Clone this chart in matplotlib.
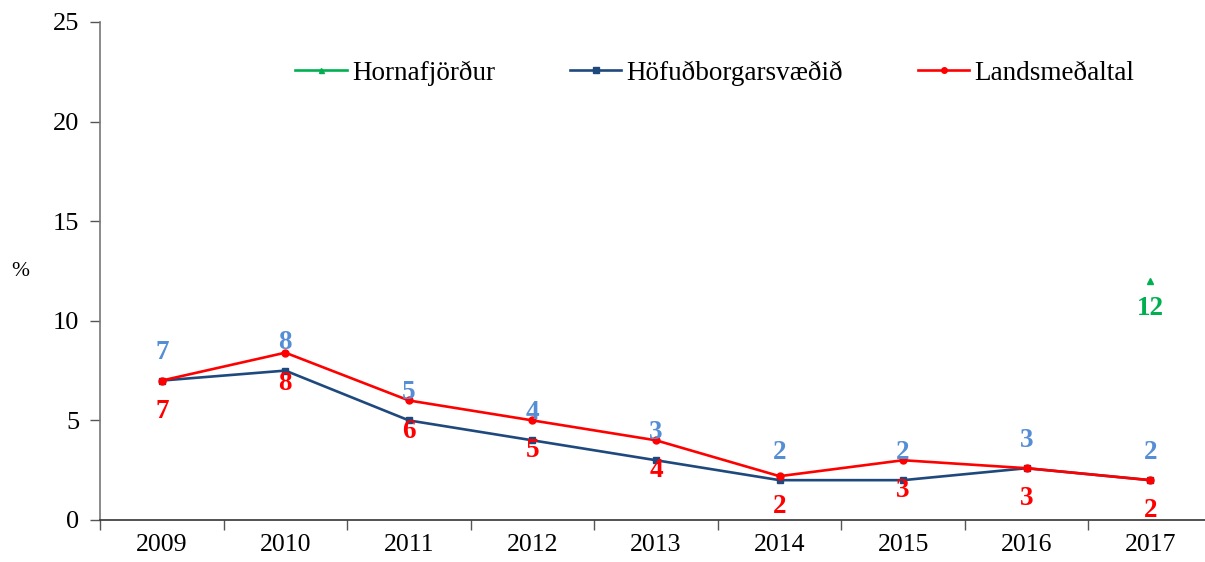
import numpy as np
import matplotlib
matplotlib.use("Agg")
import matplotlib.pyplot as plt

years = ["2009", "2010", "2011", "2012", "2013", "2014", "2015", "2016", "2017"]
hornafjordur = [np.nan, np.nan, np.nan, np.nan, np.nan, np.nan, np.nan, np.nan, 12]
hofudborg = [7, 7.5, 5, 4, 3, 2, 2, 2.6, 2]
landsmedaltal = [7, 8.4, 6, 5, 4, 2.2, 3, 2.6, 2]
horn_labels = ["", "", "", "", "", "", "", "", "12"]
hofud_labels = ["7", "8", "5", "4", "3", "2", "2", "3", "2"]
lands_labels = ["7", "8", "6", "5", "4", "2", "3", "3", "2"]
yticks = [0, 5, 10, 15, 20, 25]

plt.rcParams['font.family'] = ['Liberation Serif', 'DejaVu Serif']

fig = plt.figure(figsize=(12.05, 5.62), dpi=100)
ax = fig.add_axes([100/1205, 1-520/562, 1112/1205, (520-22)/562])

x = np.arange(len(years))
c_green = "#00B050"
c_navy = "#1F497D"
c_red = "#FF0000"
c_lblue = "#558ED5"

ax.plot(x, hornafjordur, color=c_green, marker="^", markersize=4.5, lw=1.9, label="Hornafjörður")
ax.plot(x, hofudborg, color=c_navy, marker="s", markersize=5, lw=1.9, label="Höfuðborgarsvæðið")
ax.plot(x, landsmedaltal, color=c_red, marker="o", markersize=5, lw=1.9, label="Landsmeðaltal")

lbl_fs = 19.5
for i in range(len(years)):
    if hofud_labels[i]:
        ax.annotate(hofud_labels[i], (x[i], hofudborg[i]), xytext=(0, 20), textcoords="offset points",
                    ha="center", va="center", fontsize=lbl_fs, fontweight="bold", color=c_lblue)
    if lands_labels[i]:
        ax.annotate(lands_labels[i], (x[i], landsmedaltal[i]), xytext=(0, -22), textcoords="offset points",
                    ha="center", va="center", fontsize=lbl_fs, fontweight="bold", color=c_red)
    if horn_labels[i]:
        ax.annotate(horn_labels[i], (x[i], hornafjordur[i]), xytext=(0, -20), textcoords="offset points",
                    ha="center", va="center", fontsize=lbl_fs, fontweight="bold", color=c_green)

ax.set_xlim(-0.5, len(years) - 0.5)
ax.set_ylim(0, 25)
ax.set_yticks(yticks)
ax.set_yticklabels([str(v) for v in yticks], fontsize=19)
ax.set_xticks(x)
ax.set_xticklabels(years, fontsize=18.5)
ax.set_xticks(np.arange(-0.5, len(years), 1.0), minor=True)
ax.tick_params(axis="x", which="major", length=0, pad=10)
ax.tick_params(axis="x", which="minor", length=7, direction="out", color="#555555", width=1)
ax.tick_params(axis="y", length=7, direction="out", color="#555555", width=1, pad=8)

for s in ["top", "right"]:
    ax.spines[s].set_visible(False)
ax.spines["left"].set_color("#777777")
ax.spines["bottom"].set_color("#333333")
ax.spines["left"].set_linewidth(1.2)
ax.spines["bottom"].set_linewidth(1.2)

fig.text(20/1205, 1-272/562, "%", fontsize=15.5, ha="center", va="center")

ax.legend(loc="center", bbox_to_anchor=(715/1205, 1-73/562), bbox_transform=fig.transFigure,
          ncol=3, frameon=False, fontsize=19.5, handlelength=1.9, handletextpad=0.2,
          columnspacing=2.75, markerscale=0.8)

fig.savefig("out.png", dpi=100)
